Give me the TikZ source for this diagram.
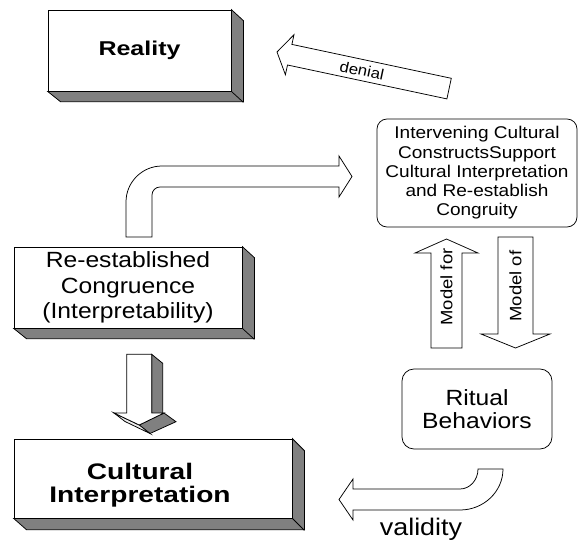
\documentclass[tikz,border=0pt]{standalone}
\usepackage{fontspec}
\setmainfont{Liberation Sans}[FakeStretch=1.12]
\newfontfamily\boldwide{Liberation Sans}[FakeStretch=1.25]
\usetikzlibrary{calc}
\definecolor{shadowgray}{RGB}{128,128,128}
\definecolor{lightface}{RGB}{235,235,235}
\newcommand\setfs[2]{\fontsize{#1}{#2}\selectfont}
\begin{document}
\begin{tikzpicture}[x=1pt,y=-1pt,
  ln/.style={draw=black, line width=0.75pt, line join=miter},
  frontbox/.style={ln, fill=white, rectangle, inner sep=0pt, align=center},
  shadowface/.style={ln, fill=shadowgray},
  roundbox/.style={ln, fill=white, rectangle, rounded corners=11pt, inner sep=0pt, align=center},
  blockarrow/.style={ln, fill=white},
  lbl/.style={inner sep=0pt, align=center}]
\useasboundingbox (0,0) rectangle (578,546);

% ---------- Reality (3D box)
\node[frontbox, minimum width=183pt, minimum height=81pt,
      font=\boldwide\bfseries\setfs{20}{24}] (reality) at (139.5,50.5) {Reality};
\draw[shadowface] (reality.north east) -- ++(12,11) -- ++(0,81) -- ++(-183,0)
  -- (reality.south west) -- (reality.south east) -- cycle;
\draw[ln] (reality.south east) -- ++(12,11);

% ---------- Re-established Congruence (3D box)
\node[frontbox, minimum width=228pt, minimum height=81pt,
      font=\setfs{22}{25.5}] (congr) at (128,287.5)
      {Re-established\\Congruence\\(Interpretability)};
\draw[shadowface] (congr.north east) -- ++(12,11) -- ++(0,81) -- ++(-228,0)
  -- (congr.south west) -- (congr.south east) -- cycle;
\draw[ln] (congr.south east) -- ++(12,11);

% ---------- Cultural Interpretation (3D box)
\node[frontbox, minimum width=278pt, minimum height=79pt] (cultbox) at (153,478.5) {};
\draw[shadowface] (cultbox.north east) -- ++(12,12) -- ++(0,79) -- ++(-278,0)
  -- (cultbox.south west) -- (cultbox.south east) -- cycle;
\draw[ln] (cultbox.south east) -- ++(12,12);
\node[lbl, font=\boldwide\bfseries\setfs{22.5}{22.5}] (culttext) at (140,485)
  {Cultural\\Interpretation};

% ---------- Intervening cultural constructs (rounded box)
\node[roundbox, minimum width=200pt, minimum height=108pt, rounded corners=10pt,
      font=\setfs{17}{19.2}] (interv) at (477,173)
  {Intervening Cultural\\ConstructsSupport\\Cultural Interpretation\\and Re-establish\\Congruity};

% ---------- Ritual Behaviors (rounded box)
\node[roundbox, minimum width=150pt, minimum height=80pt, rounded corners=12pt,
      font=\setfs{22}{23.5}] (ritual) at (477,409) {Ritual\\Behaviors};

% ---------- denial arrow (tilted, pointing to Reality)
\draw[blockarrow] (277,52) -- (294.0,34.7) -- (291.9,44.4) -- (451.3,78.3)
  -- (446.9,98.9) -- (287.5,65.0) -- (285.4,74.7) -- cycle;
\node[lbl, rotate=-12, font=\setfs{15}{17}] (denial) at (362,70.5) {denial};

% ---------- bent arrow from Re-established up and right to Intervening box
\draw[blockarrow] (126,237) -- (126,202) .. controls (126,182.1) and (142.1,166) .. (162,166)
  -- (339,166) -- (339,156) -- (352,176.5) -- (339,197) -- (339,187) -- (160,187)
  .. controls (155.6,187) and (152,190.6) .. (152,195) -- (152,237) -- cycle;

% ---------- Model for (up arrow)
\draw[blockarrow] (431,348) -- (431,253) -- (415,253) -- (446.5,239) -- (478,253)
  -- (462,253) -- (462,348) -- cycle;
\node[lbl, rotate=90, font=\setfs{16.5}{19}] (modelfor) at (446.5,287) {Model for};

% ---------- Model of (down arrow)
\draw[blockarrow] (498,237) -- (533,237) -- (533,334) -- (550,334) -- (515.5,348)
  -- (481,334) -- (498,334) -- cycle;
\node[lbl, rotate=90, font=\setfs{16.5}{19}] (modelof) at (515.5,286) {Model of};

% ---------- validity arrow (from Ritual Behaviors to Cultural Interpretation)
\draw[blockarrow] (503,469) -- (478,469) .. controls (478,480) and (469.9,489) .. (460,489)
  -- (353,489) -- (353,479) -- (339,499.5) -- (353,520) -- (353,510) -- (460,510)
  .. controls (483.7,510) and (503,491.6) .. (503,469) -- cycle;
\node[lbl, font=\setfs{24}{26}] (validity) at (421,529) {validity};

% ---------- 3D down arrow (Re-established -> Cultural Interpretation)
\draw[shadowface] (151.7,354.3) -- (162.7,363.3) -- (162.7,422) -- (151.7,413) -- cycle;
\draw[shadowface] (164,413) -- (176,421.7) -- (150,433.5) -- (139.2,425) -- cycle;
\draw[ln, fill=lightface] (114,413) -- (139.2,425) -- (150,433.5) -- (125,421.5) -- cycle;
\draw[ln, fill=white] (126.7,354.3) -- (151.7,354.3) -- (151.7,413) -- (164,413)
  -- (139.2,425) -- (114,413) -- (126.7,413) -- cycle;
\end{tikzpicture}
\end{document}
